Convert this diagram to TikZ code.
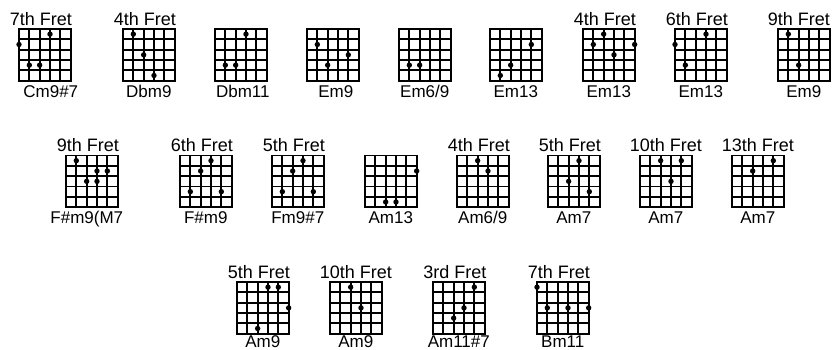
\documentclass[tikz,border=0pt]{standalone}
\usepackage{fontspec}
\setmainfont{Liberation Sans}
\tikzset{
  gridline/.style={line width=1.9pt, line cap=rect, black},
  fretlab/.style={anchor=base, inner sep=0pt, font=\fontsize{18}{18}\selectfont},
  chordlab/.style={anchor=base, inner sep=0pt, font=\fontsize{17}{17}\selectfont},
  fingerdot/.style={fill=black}
}
% #1 id, #2 x, #3 y(top), #4 fret label, #5 fret-label shift, #6 chord name, #7 chord-name shift, #8 dots, #9 name baseline offset
\newcommand\chordbox[9]{%
  \foreach \i in {0,1,2,3,4,5}{%
    \pgfmathsetmacro\gx{#2+\i*10.33}
    \pgfmathsetmacro\gy{#3+\i*10.33}
    \draw[gridline] (\gx,#3) -- (\gx,#3+51.65);
    \draw[gridline] (#2,\gy) -- (#2+51.65,\gy);
  }
  \node[fretlab] (f#1) at (#2+25.8+#5,#3-4) {#4};
  \node[chordlab] (n#1) at (#2+25.8+#7,#3+#9) {#6};
  \foreach \s/\f in {#8}{%
    \fill[fingerdot] (#2+\s*10.33,#3+\f*10.33-5.17) circle (2.7);
  }
}
\begin{document}
\begin{tikzpicture}[x=1pt,y=-1pt]
\useasboundingbox (0,0) rectangle (834,349);
\fill[white] (0,0) rectangle (834,349);
% Row 1
\chordbox{a1}{19}{29}{7th Fret}{-4}{Cm9\#7}{6}{3/1,0/2,1/4,2/4}{68}
\chordbox{a2}{123}{29}{4th Fret}{-4}{Dbm9}{0}{1/1,2/3,3/5}{68}
\chordbox{a3}{215}{29}{}{0}{Dbm11}{2}{3/1,1/4,2/4}{68}
\chordbox{a4}{307}{29}{}{0}{Em9}{3}{1/2,4/3,2/4}{68}
\chordbox{a5}{399}{29}{}{0}{Em6/9}{0}{1/4,2/4}{68}
\chordbox{a6}{490}{29}{}{0}{Em13}{0}{4/2,2/4,1/5}{68}
\chordbox{a7}{583}{29}{4th Fret}{-4}{Em13}{0}{2/1,1/2,5/2,3/3}{68}
\chordbox{a8}{675}{29}{6th Fret}{-4}{Em13}{0}{3/1,0/2,1/4}{68}
\chordbox{a9}{778}{29}{9th Fret}{-5}{Em9}{0}{1/1,2/4}{68}
% Row 2
\chordbox{b1}{66}{155.5}{9th Fret}{-4}{F\#m9(M7}{-5}{1/1,3/2,4/2,2/3,3/3}{68}
\chordbox{b2}{180}{155.5}{6th Fret}{-4}{F\#m9}{0}{3/1,2/2,1/4,4/4}{68}
\chordbox{b3}{272}{155.5}{5th Fret}{-4}{Fm9\#7}{0}{3/1,2/2,1/4,4/4}{68}
\chordbox{b4}{365}{155.5}{}{0}{Am13}{0}{5/2,2/5,3/5}{68}
\chordbox{b5}{457}{155.5}{4th Fret}{-4}{Am6/9}{0}{2/1,3/2}{68}
\chordbox{b6}{548}{155.5}{5th Fret}{-4}{Am7}{0}{3/1,2/3,4/4}{68}
\chordbox{b7}{640}{155.5}{10th Fret}{0}{Am7}{0}{2/1,4/1,3/3}{68}
\chordbox{b8}{732}{155.5}{13th Fret}{0}{Am7}{0}{4/1,2/2}{68}
% Row 3
\chordbox{c1}{237}{282}{5th Fret}{-4}{Am9}{0}{3/1,4/1,5/3,2/5}{65}
\chordbox{c2}{330}{282}{10th Fret}{0}{Am9}{0}{2/1,3/3}{65}
\chordbox{c3}{433}{282}{3rd Fret}{-4}{Am11\#7}{0}{4/1,3/3,2/4}{65}
\chordbox{c4}{537}{282}{7th Fret}{-4}{Bm11}{0}{0/1,1/3,3/3,5/3}{65}
\end{tikzpicture}
\end{document}
